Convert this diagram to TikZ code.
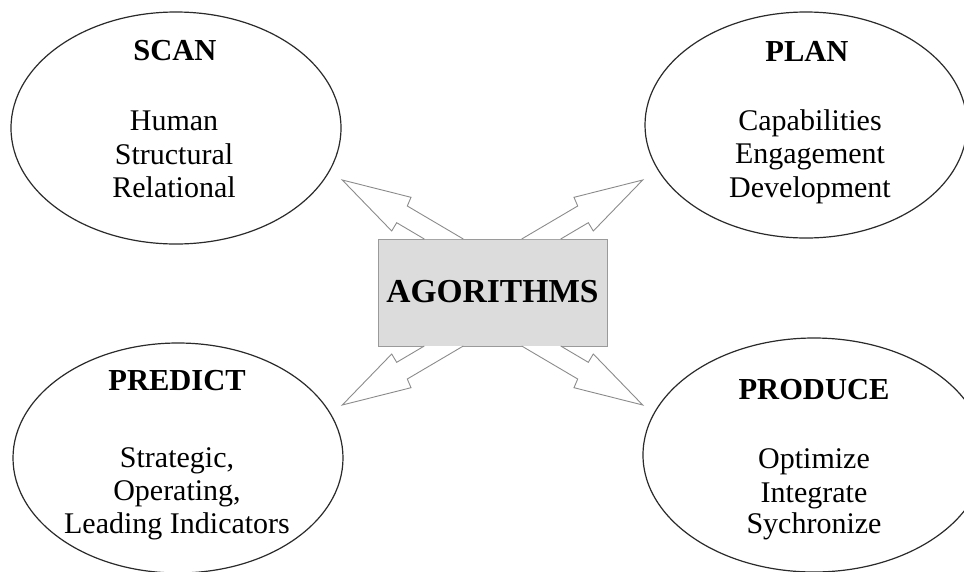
\documentclass[tikz,border=0pt]{standalone}
\usepackage{fontspec}
\setmainfont{Liberation Serif}
\usetikzlibrary{shapes.geometric}
\definecolor{arrgray}{HTML}{8C8C8C}
\definecolor{boxgray}{HTML}{DCDCDC}
\definecolor{boxline}{HTML}{9A9A9A}
\definecolor{ellline}{HTML}{2A2A2A}
\tikzset{
  oval/.style={draw=ellline, line width=1.2pt, ellipse, inner sep=0pt},
  ttl/.style={anchor=base, inner sep=0pt, font=\fontsize{30.5}{33}\selectfont\bfseries},
  txt/.style={anchor=base, inner sep=0pt, font=\fontsize{30}{33}\selectfont},
  blockarrow/.style={draw=arrgray, fill=white, line width=0.9pt, line join=miter},
}
\begin{document}
\begin{tikzpicture}[x=1pt,y=-1pt]
\clip (0,0) rectangle (964,571);
\fill[white] (0,0) rectangle (964,571);
% ellipses
\node[oval, minimum width=330pt, minimum height=232pt] (scan) at (176,128) {};
\node[oval, minimum width=322pt, minimum height=226pt] (plan) at (806,125) {};
\node[oval, minimum width=330pt, minimum height=230pt] (predict) at (178,458) {};
\node[oval, minimum width=342pt, minimum height=234pt] (produce) at (814,455) {};
% texts
\node[ttl] (scanT) at (175,60) {SCAN};
\node[txt] (scan1) at (174,130) {Human};
\node[txt] (scan2) at (174,164) {Structural};
\node[txt] (scan3) at (174,197) {Relational};
\node[ttl] (planT) at (807,61) {PLAN};
\node[txt] (plan1) at (810,130) {Capabilities};
\node[txt] (plan2) at (810,163) {Engagement};
\node[txt] (plan3) at (810,197) {Development};
\node[ttl] (predT) at (177,390) {PREDICT};
\node[txt] (pred1) at (177,467) {Strategic,};
\node[txt] (pred2) at (177,500) {Operating,};
\node[txt] (pred3) at (177,533) {Leading Indicators};
\node[ttl] (prodT) at (814,399) {PRODUCE};
\node[txt] (prod1) at (814,468) {Optimize};
\node[txt] (prod2) at (814,502) {Integrate};
\node[txt] (prod3) at (814,533) {Sychronize};
% central box
\node[draw=boxline, fill=boxgray, line width=0.9pt, minimum width=229pt, minimum height=107pt, inner sep=0pt] (box) at (492.5,292.5) {};
\node[anchor=base, inner sep=0pt, font=\fontsize{33.5}{36}\selectfont\bfseries] (boxT) at (492.5,302) {AGORITHMS};
% block arrows
\foreach \sx/\sy in {1/1,-1/1,1/-1,-1/-1}{
  \begin{scope}[shift={(box.center)}, xscale=\sx, yscale=\sy]
    \draw[blockarrow] (-68.2,-53.5) -- (-95.8,-69.8) -- (-100.8,-61.5) -- (-150.2,-112.5)
      -- (-81.5,-95.2) -- (-85.2,-86.5) -- (-29.2,-53.5);
  \end{scope}
}
\end{tikzpicture}
\end{document}
